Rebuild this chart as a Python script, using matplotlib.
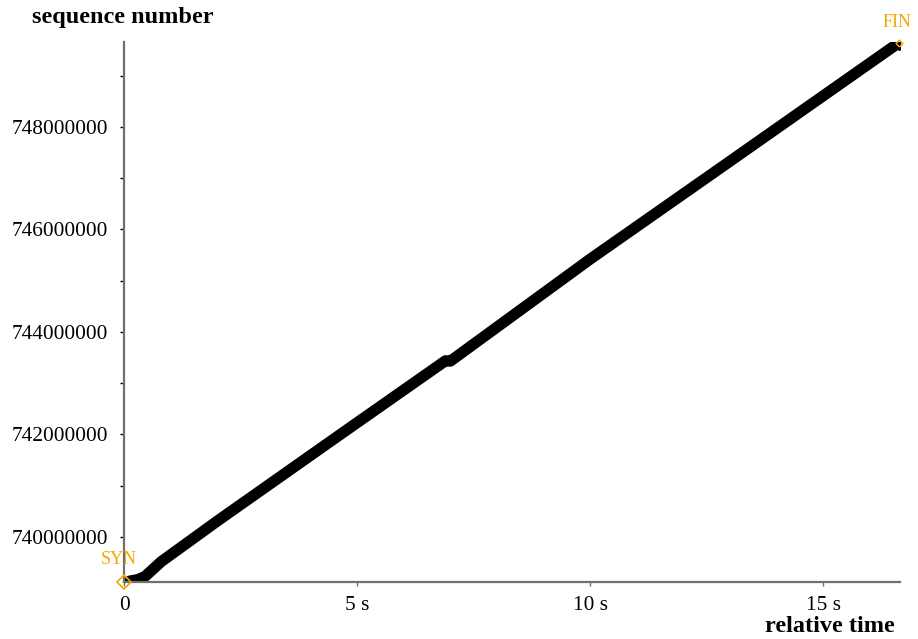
import matplotlib
matplotlib.use("Agg")
import matplotlib.pyplot as plt
from matplotlib.ticker import MultipleLocator, FuncFormatter

# Segment trace: relative time (s) vs. sequence number
seg_time = [0.12, 0.30, 0.45, 0.80, 2.00, 4.64, 6.90, 7.00, 10.00, 13.00, 16.62]
seg_seq = [739140000, 739170000, 739230000, 739520000, 740310000, 742000000,
           743440000, 743430000, 745420000, 747330000, 749640000]

syn_time, syn_seq = 0.0, 739122000
fin_time, fin_seq = 16.62, 749640000

y_major = 2000000
y_minor = 1000000
x_ticks = [0, 5, 10, 15]
x_labels = ["0", "5 s", "10 s", "15 s"]

plt.rcParams["font.family"] = ["Liberation Serif", "DejaVu Serif"]

W, H = 918, 639
fig = plt.figure(figsize=(W / 100, H / 100), dpi=100)
ax = fig.add_axes([124 / W, (H - 582) / H, (900 - 124) / W, (582 - 42) / H])

ax.plot(seg_time, seg_seq, color="black", lw=8, solid_capstyle="round",
        solid_joinstyle="round", zorder=2)
ax.plot([fin_time], [fin_seq], ls="none", marker="D", ms=7, mfc="black", mec="black", zorder=3)

orange = "#f5a800"
ax.plot([syn_time], [syn_seq], ls="none", marker="D", ms=7, mfc="none", mec=orange,
        mew=1.2, clip_on=False, zorder=4)
ax.plot([fin_time], [fin_seq], ls="none", marker="D", ms=3.5, mfc="none", mec=orange,
        mew=1.0, clip_on=False, zorder=4)
ax.annotate("SYN", (syn_time, syn_seq), xytext=(-4, 16), textcoords="offset points",
            color=orange, fontsize=13, ha="center", va="center", annotation_clip=False)
ax.annotate("FIN", (fin_time, fin_seq), xytext=(-1, 14.5), textcoords="offset points",
            color=orange, fontsize=13, ha="center", va="center", annotation_clip=False)

ax.set_xlim(0, 16.65)
ax.set_ylim(739122000, 749658000)

for s in ("top", "right"):
    ax.spines[s].set_visible(False)
for s in ("left", "bottom"):
    ax.spines[s].set_color("#707070")
    ax.spines[s].set_linewidth(1.6)

ax.yaxis.set_major_locator(MultipleLocator(y_major))
ax.yaxis.set_minor_locator(MultipleLocator(y_minor))
ax.yaxis.set_major_formatter(FuncFormatter(lambda v, p: f"{int(round(v))}"))
ax.set_xticks(x_ticks)
ax.set_xticklabels(x_labels)
ax.tick_params(axis="y", which="both", length=3, width=1, color="black", labelsize=15.4, pad=8.5)
ax.tick_params(axis="x", which="both", length=3, width=1, color="#707070", labelsize=15.4, pad=7)

fig.text(123 / W, 1 - 18 / H, "sequence number", fontsize=17.5, fontweight="bold",
         ha="center", va="center")
fig.text(830 / W, 1 - 626 / H, "relative time", fontsize=17.5, fontweight="bold",
         ha="center", va="center")

fig.savefig("out.png", dpi=100)
